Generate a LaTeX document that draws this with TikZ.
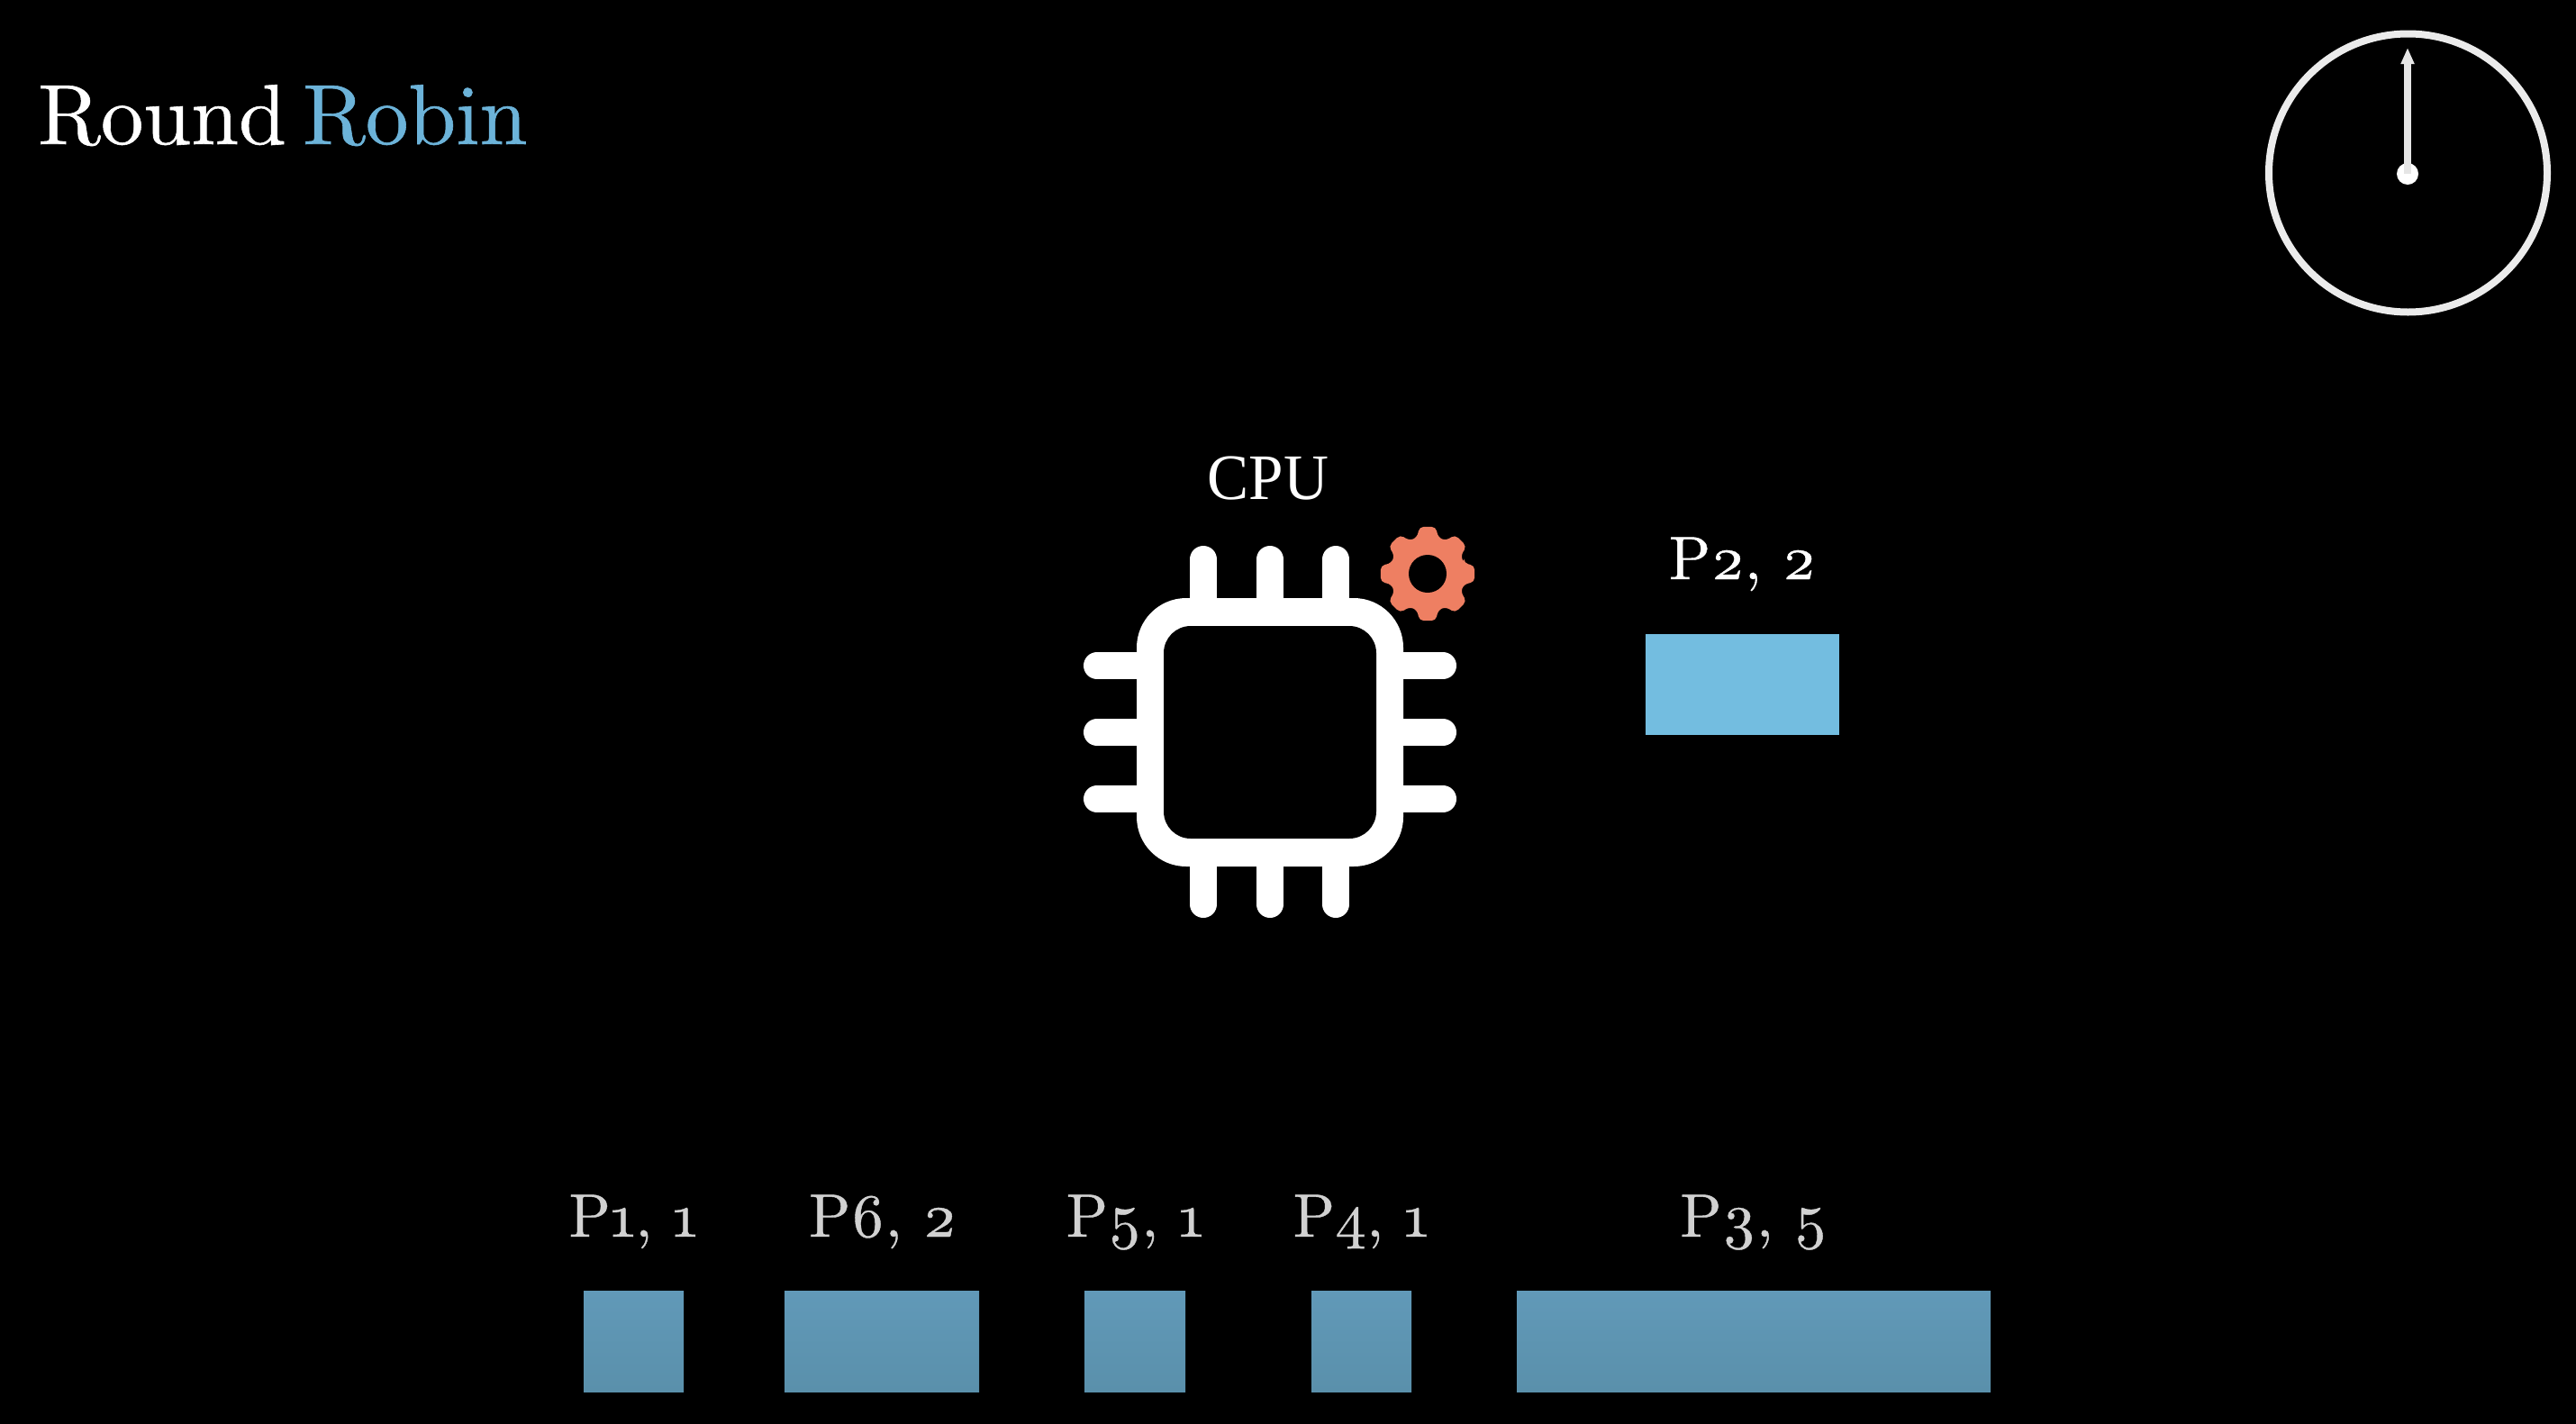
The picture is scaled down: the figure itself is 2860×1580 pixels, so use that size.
\documentclass[tikz,border=0pt]{standalone}
\usepackage{fontspec}
\setmainfont{lmroman10-regular}[Extension=.otf,Numbers=OldStyle,FakeBold=0.6]
\newfontfamily\cpufont{Liberation Serif}
\usetikzlibrary{arrows.meta}
\definecolor{bluelit}{HTML}{73BDE0}
\definecolor{titleblue}{HTML}{6CB3D9}
\definecolor{gearcol}{HTML}{EE7F62}
\tikzset{
  lbl/.style={anchor=base,inner sep=0pt,outer sep=0pt,text=#1,font=\fontsize{68}{70}\selectfont},
  lbl/.default=white,
  proclit/.style={draw=none,fill=bluelit,inner sep=0pt,outer sep=0pt,minimum height=112pt},
  procdim/.style={draw=none,top color=QT,bottom color=QB,inner sep=0pt,outer sep=0pt,minimum height=112pt},
  pin/.style={line width=30pt,line cap=round,white},
  title/.style={anchor=base west,inner sep=0pt,outer sep=0pt,font=\fontsize{95}{100}\selectfont}
}
\definecolor{QT}{HTML}{6199B8}
\definecolor{QB}{HTML}{5A90AB}
\begin{document}
\begin{tikzpicture}[x=1pt,y=-1pt]
\useasboundingbox (0,0) rectangle (2860,1580);
\fill[black] (-5,-5) rectangle (2865,1585);
% title
\node[title,text=white] (t1) at (42,160) {Round};
\node[title,text=titleblue] (t2) at (336,160) {Robin};
% clock
\node[circle,draw=white!92!black,line width=8pt,minimum size=309pt,inner sep=0pt] (clock) at (2673.5,192) {};
\node[circle,fill=white,minimum size=24pt,inner sep=0pt] (hub) at (2673,193) {};
\coordinate (tip) at (2673,53);
\draw[line width=8pt,white!90!black,-{Triangle[width=14pt,length=18pt]}] (hub.center) -- (tip);
% cpu
\node[anchor=base,inner sep=0pt,text=white] (cpu) at (1408,554) {\cpufont\fontsize{72}{74}\selectfont\scalebox{0.96}[1]{CPU}};
\foreach \x in {1336,1410,1483}{
  \draw[pin] (\x,621) -- (\x,680);
  \draw[pin] (\x,945) -- (\x,1004);
}
\foreach \y in {739,813,887}{
  \draw[pin] (1218,\y) -- (1275,\y);
  \draw[pin] (1545,\y) -- (1602,\y);
}
\fill[white,rounded corners=55pt] (1262,664) rectangle (1558,962);
\fill[black,rounded corners=30pt] (1292,695) rectangle (1528,931);
% gear
\begin{scope}[shift={(1585,637)}]
\fill[gearcol,rounded corners=5pt]
  (-16:42) \foreach \a in {0,45,...,315}{
    -- (\a-16:42) -- (\a-10:53) -- (\a+10:53) -- (\a+16:42)
  } -- cycle;
\fill[black] (0,0) circle[radius=21pt];
\end{scope}
% running process
\node[lbl] (p2l) at (1934.5,643) {P2, 2};
\node[proclit,minimum width=215pt] (p2) at (1934.5,760) {};
% queue
\node[lbl=white!82!black] (q1l) at (703,1373) {P1, 1};
\node[lbl=white!82!black] (q6l) at (980,1373) {P6, 2};
\node[lbl=white!82!black] (q5l) at (1260,1373) {P5, 1};
\node[lbl=white!82!black] (q4l) at (1511,1373) {P4, 1};
\node[lbl=white!82!black] (q3l) at (1947,1373) {P3, 5};
\node[procdim,minimum width=111pt] (q1) at (703.5,1489) {};
\node[procdim,minimum width=216pt] (q6) at (979,1489) {};
\node[procdim,minimum width=112pt] (q5) at (1260,1489) {};
\node[procdim,minimum width=111pt] (q4) at (1511.5,1489) {};
\node[procdim,minimum width=526pt] (q3) at (1947,1489) {};
\end{tikzpicture}
\end{document}
